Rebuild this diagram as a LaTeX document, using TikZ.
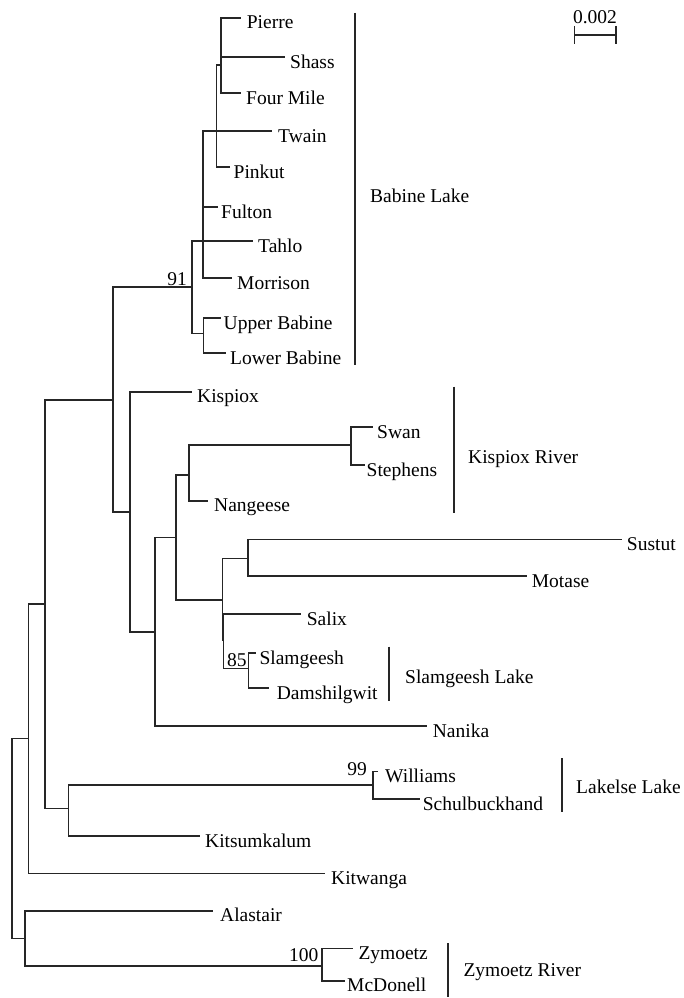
\documentclass[tikz,border=0pt]{standalone}
\usepackage{fontspec}
\setmainfont{Liberation Serif}
\begin{document}
\begin{tikzpicture}[
    x=1pt,
    y=-1pt,
    font=\fontsize{19.5}{22}\selectfont,
    branch/.style={
        line width=1.6pt,
        draw=black!85
    },
    bar/.style={
        line width=2.3pt,
        draw=black!85
    },
    leaf/.style={
        anchor=base west,
        inner sep=0pt,
        yshift=-11pt
    },
    boot/.style={
        anchor=base east,
        inner sep=0pt
    },
    group/.style={
        anchor=base west,
        inner sep=0pt
    }
]
\useasboundingbox (0,0) rectangle (683,998);

% Internal nodes (where the parent branch comes in)
\coordinate (root) at (11.7,838.3);
\coordinate (nL)   at (28.3,738.3);
\coordinate (n45)  at (45,604);
\coordinate (nK)   at (68.3,808.3);
\coordinate (nP)   at (373,785);
\coordinate (nE)   at (113,400);
\coordinate (n91)  at (191.7,287);
\coordinate (nB)   at (203,241);
\coordinate (nC)   at (216.5,131);
\coordinate (nD)   at (221,65);
\coordinate (nUB)  at (203.5,333.5);
\coordinate (nJ)   at (130,511.7);
\coordinate (nF)   at (189,475);
\coordinate (nSw)  at (350.7,445);
\coordinate (nI)   at (155,631.7);
\coordinate (nG)   at (176,537.3);
\coordinate (nH)   at (222.3,600);
\coordinate (nH2)  at (223.6,640);
\coordinate (nSM)  at (247.7,558.3);
\coordinate (nSl)  at (248.3,668.3);
\coordinate (nN)   at (25,938.3);
\coordinate (nO)   at (321.7,966);

% Leaf tips
\coordinate (tPierre)   at (241,18);
\coordinate (tShass)    at (285,57);
\coordinate (tFour)     at (241,93);
\coordinate (tTwain)    at (272,131);
\coordinate (tPinkut)   at (230,167);
\coordinate (tFulton)   at (218,207);
\coordinate (tTahlo)    at (253,241);
\coordinate (tMorrison) at (232,278);
\coordinate (tUpper)    at (221,318);
\coordinate (tLower)    at (226,353);
\coordinate (tKispiox)  at (191.7,391.7);
\coordinate (tSwan)     at (373,427);
\coordinate (tStephens) at (365,465);
\coordinate (tNangeese) at (208,500.7);
\coordinate (tSustut)   at (621.7,539.3);
\coordinate (tMotase)   at (526.7,576);
\coordinate (tSalix)    at (300.7,614);
\coordinate (tSlam)     at (256,653);
\coordinate (tDams)     at (269.3,688);
\coordinate (tNanika)   at (426.7,726);
\coordinate (tWilliams) at (378,771.5);
\coordinate (tSchul)    at (420,799);
\coordinate (tKitsum)   at (200,836);
\coordinate (tKitwanga) at (325,873.3);
\coordinate (tAlastair) at (213.3,910.7);
\coordinate (tZymoetz)  at (353.3,948.3);
\coordinate (tMcDonell) at (345,980.7);

% Leaf names
\node [leaf] (pierre)   at (246.7,18)    {Pierre};
\node [leaf] (shass)    at (290,57)      {Shass};
\node [leaf] (four)     at (246,93)      {Four Mile};
\node [leaf] (twain)    at (278,131)     {Twain};
\node [leaf] (pinkut)   at (233.5,167)   {Pinkut};
\node [leaf] (fulton)   at (221,207)     {Fulton};
\node [leaf] (tahlo)    at (258,241)     {Tahlo};
\node [leaf] (morrison) at (237,278)     {Morrison};
\node [leaf] (upper)    at (223.5,318)   {Upper Babine};
\node [leaf] (lower)    at (230,353)     {Lower Babine};
\node [leaf] (kispiox)  at (197,391.7)   {Kispiox};
\node [leaf] (swan)     at (377,427)     {Swan};
\node [leaf] (stephens) at (366.5,465)   {Stephens};
\node [leaf] (nangeese) at (214,500.7)   {Nangeese};
\node [leaf] (sustut)   at (626.7,539.3) {Sustut};
\node [leaf] (motase)   at (531.7,576)   {Motase};
\node [leaf] (salix)    at (306.7,614)   {Salix};
\node [leaf] (slam)     at (259.3,653)   {Slamgeesh};
\node [leaf] (dams)     at (276.7,688)   {Damshilgwit};
\node [leaf] (nanika)   at (432.7,726)   {Nanika};
\node [leaf] (williams) at (385,771.5)   {Williams};
\node [leaf] (schul)    at (422.7,799)   {Schulbuckhand};
\node [leaf] (kitsum)   at (205,836)     {Kitsumkalum};
\node [leaf] (kitwanga) at (331,873.3)   {Kitwanga};
\node [leaf] (alastair) at (220,910.7)   {Alastair};
\node [leaf] (zymoetz)  at (358.3,948.3) {Zymoetz};
\node [leaf] (mcdonell) at (347,980.7)   {McDonell};

% Branches
\draw [branch] (root) |- (nL) (root) |- (nN);
\draw [branch] (nL) |- (n45) (nL) |- (tKitwanga);
\draw [branch] (n45) |- (nE) (n45) |- (nK);
\draw [branch] (nK) |- (nP) (nK) |- (tKitsum);
\draw [branch] (nP) |- (tWilliams) (nP) |- (tSchul);
\draw [branch] (nE) |- (n91) (nE) |- (nJ);
\draw [branch] (n91) |- (nB) (n91) |- (nUB);
\draw [branch] (nB) |- (nC) (nB) |- (tFulton) (nB) |- (tTahlo) (nB) |- (tMorrison);
\draw [branch] (nC) |- (nD) (nC) |- (tTwain) (nC) |- (tPinkut);
\draw [branch] (nD) |- (tPierre) (nD) |- (tShass) (nD) |- (tFour);
\draw [branch] (nUB) |- (tUpper) (nUB) |- (tLower);
\draw [branch] (nJ) |- (tKispiox) (nJ) |- (nI);
\draw [branch] (nI) |- (nG) (nI) |- (tNanika);
\draw [branch] (nG) |- (nF) (nG) |- (nH);
\draw [branch] (nF) |- (nSw) (nF) |- (tNangeese);
\draw [branch] (nSw) |- (tSwan) (nSw) |- (tStephens);
\draw [branch] (nH) |- (nSM) (nH) |- (nH2);
\draw [branch] (nSM) |- (tSustut) (nSM) |- (tMotase);
\draw [branch] (nH2) |- (tSalix) (nH2) |- (nSl);
\draw [branch] (nSl) |- (tSlam) (nSl) |- (tDams);
\draw [branch] (nN) |- (tAlastair) (nN) |- (nO);
\draw [branch] (nO) |- (tZymoetz) (nO) |- (tMcDonell);

% Bootstrap values
\node [boot] (b91)  at (187,285)     {91};
\node [boot] (b85)  at (246.7,666)   {85};
\node [boot] (b99)  at (367,775.5)   {99};
\node [boot] (b100) at (318.5,961)   {100};

% Groups
\coordinate (babT) at (355,13);     \coordinate (babB) at (355,365);
\coordinate (kisT) at (454,386.7);  \coordinate (kisB) at (454,513);
\coordinate (slaT) at (389.3,646.7);\coordinate (slaB) at (389.3,700.7);
\coordinate (lakT) at (561.7,758.3);\coordinate (lakB) at (561.7,811.7);
\coordinate (zymT) at (448.3,943.3);\coordinate (zymB) at (448.3,996.7);
\draw [bar] (babT) -- (babB);
\draw [bar] (kisT) -- (kisB);
\draw [bar] (slaT) -- (slaB);
\draw [bar] (lakT) -- (lakB);
\draw [bar] (zymT) -- (zymB);
\node [group] (babine)   at (370,202)     {Babine Lake};
\node [group] (kisriver) at (468,463.3)   {Kispiox River};
\node [group] (slamlake) at (405,683.3)   {Slamgeesh Lake};
\node [group] (lakelse)  at (576,793.3)   {Lakelse Lake};
\node [group] (zymriver) at (463.3,976.7) {Zymoetz River};

% Scale bar
\coordinate (sbL) at (574.3,35);
\coordinate (sbR) at (615.7,35);
\draw [branch] (sbL) -- (sbR);
\draw [branch] ([yshift=9pt]sbL) -- ([yshift=-9pt]sbL);
\draw [branch] ([yshift=9pt]sbR) -- ([yshift=-9pt]sbR);
\node [anchor=base, inner sep=0pt] (scale) at (595,24) {0.002};

\end{tikzpicture}
\end{document}
